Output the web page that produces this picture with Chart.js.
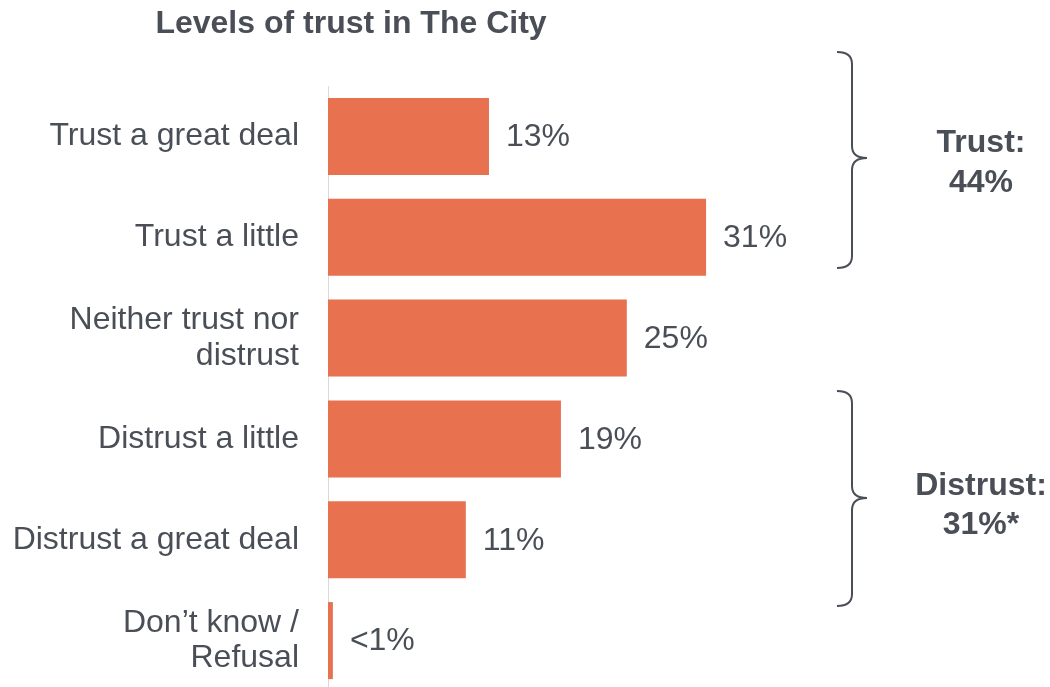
<!DOCTYPE html>
<html>
<head>
<meta charset="utf-8">
<script src="https://cdn.jsdelivr.net/npm/chart.js@4/dist/chart.umd.min.js"></script>
<style>
  html, body { margin: 0; padding: 0; background: #ffffff; overflow: hidden; }
  #wrap { position: relative; width: 1050px; height: 691px; }
</style>
</head>
<body>
<div id="wrap"><canvas id="c"></canvas></div>
<script>
// ---- data ----
const categories = [
  "Trust a great deal",
  "Trust a little",
  ["Neither trust nor", "distrust"],
  "Distrust a little",
  "Distrust a great deal",
  ["Don\u2019t know /", "Refusal"]
];
const values = [13.2, 31, 24.5, 19.1, 11.3, 0.4];
const valueLabels = ["13%", "31%", "25%", "19%", "11%", "<1%"];
const chartTitle = "Levels of trust in The City";
const groupLabels = [["Trust:", "44%"], ["Distrust:", "31%*"]];

const TEXT = "#4a4f57";
const BAR = "#e87150";
const FONT = "'Liberation Sans', Arial, sans-serif";
// bracket geometry (pixels): top, point, bottom, label line centres
const BRACKETS = [
  { top: 52, mid: 158, bot: 268, l1: 143, l2: 183 },
  { top: 391, mid: 498, bot: 606, l1: 486, l2: 525 }
];

const overlay = {
  id: "overlay",
  afterDatasetsDraw(chart) {
    const ctx = chart.ctx;
    const meta = chart.getDatasetMeta(0);
    ctx.save();
    ctx.fillStyle = TEXT;
    ctx.font = "bold 32px " + FONT;
    ctx.textAlign = "center";
    ctx.textBaseline = "middle";
    ctx.fillText(chartTitle, 351, 24);
    ctx.font = "32px " + FONT;
    ctx.textAlign = "left";
    meta.data.forEach((bar, i) => {
      ctx.fillText(valueLabels[i], bar.x + 17, bar.y + 1);
    });
    ctx.strokeStyle = TEXT;
    ctx.lineWidth = 2;
    BRACKETS.forEach((b, g) => {
      const xTip = 837, xSp = 852, xPt = 867, rad = 12;
      ctx.beginPath();
      ctx.moveTo(xTip, b.top);
      ctx.quadraticCurveTo(xSp, b.top, xSp, b.top + rad);
      ctx.lineTo(xSp, b.mid - rad);
      ctx.quadraticCurveTo(xSp, b.mid, xPt, b.mid);
      ctx.quadraticCurveTo(xSp, b.mid, xSp, b.mid + rad);
      ctx.lineTo(xSp, b.bot - rad);
      ctx.quadraticCurveTo(xSp, b.bot, xTip, b.bot);
      ctx.stroke();
      ctx.font = "bold 32px " + FONT;
      ctx.textAlign = "center";
      ctx.fillText(groupLabels[g][0], 981, b.l1);
      ctx.fillText(groupLabels[g][1], 981, b.l2);
    });
    ctx.restore();
  }
};

new Chart(document.getElementById("c"), {
  type: "bar",
  data: {
    labels: categories,
    datasets: [{
      data: values,
      backgroundColor: BAR,
      borderWidth: 0,
      barPercentage: 0.764,
      categoryPercentage: 1.0
    }]
  },
  options: {
    indexAxis: "y",
    responsive: true,
    maintainAspectRatio: false,
    animation: false,
    layout: { padding: { top: 86, right: 0, bottom: 0, left: 0 } },
    plugins: {
      legend: { display: false },
      title: { display: false },
      tooltip: { enabled: false }
    },
    scales: {
      x: { display: false, min: 0, max: 59.2 },
      y: {
        afterFit(scale) { scale.width = 328; scale.paddingTop = 0; scale.paddingBottom = 0; },
        grid: { display: false, drawTicks: false },
        border: { display: true, color: "#d9d9d9", width: 1 },
        ticks: {
          color: TEXT,
          padding: 29,
          font: { family: FONT, size: 32, lineHeight: 1.1 }
        }
      }
    }
  },
  plugins: [overlay]
});
</script>
</body>
</html>
